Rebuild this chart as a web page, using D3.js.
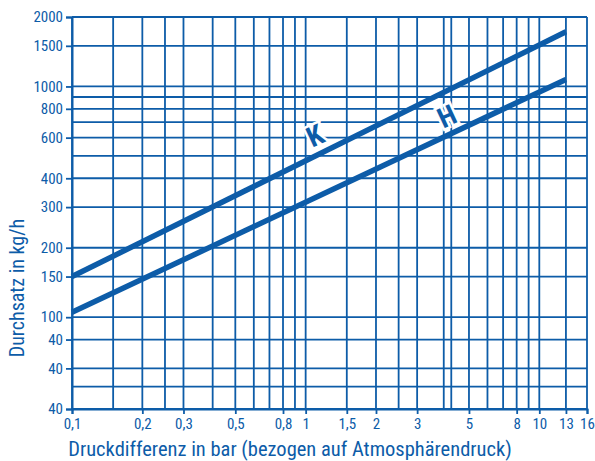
<!DOCTYPE html>
<html><head><meta charset="utf-8">
<script src="https://cdn.jsdelivr.net/npm/d3@7"></script>
<style>
html,body{margin:0;padding:0;background:#fff;}
svg{display:block;}
text{font-family:"Liberation Sans Narrow","Arial Narrow","Roboto Condensed","Liberation Sans",Arial,sans-serif;fill:#0d5ca8;}
</style></head><body>
<script>
// ---- data ----
const xGrid = [0.1,0.15,0.2,0.25,0.3,0.4,0.5,0.6,0.7,0.8,0.9,1,1.5,2,2.5,3,3.9,4.2,5,6,7,8,9,10,13,16];
const xTickValues = [0.1,0.2,0.3,0.5,0.8,1,1.5,2,3,5,8,10,13,16];
const xTickLabels = ["0,1","0,2","0,3","0,5","0,8","1","1,5","2","3","5","8","10","13","16"];
const yGrid = [40,50,60,80,100,150,200,300,400,500,600,700,800,900,1000,1500,2000];
const yTickValues = [2000,1500,1000,800,600,400,300,200,150,100,80,60,40];
const yTickLabels = ["2000","1500","1000","800","600","400","300","200","150","100","40","40","40"];
const seriesNames = ["K","H"];
const seriesX = [0.1, 13];
const seriesK = [150, 1725];
const seriesH = [105, 1072];
const labelK = {x:1.1, y:610};
const labelH = {x:4.03, y:740};

const W=595,H=461;
const color="#0d5ca8";
const svg=d3.select("body").append("svg").attr("width",W).attr("height",H);
const x=d3.scaleLog().domain([0.1,16]).range([72,587]);
const y=d3.scaleLog().domain([40,2000]).range([409,17]);

// grid
const g=svg.append("g");
g.selectAll(".vx").data(xGrid).join("line")
 .attr("x1",d=>x(d)).attr("x2",d=>x(d)).attr("y1",y(2000)).attr("y2",y(40))
 .attr("stroke",color).attr("stroke-width",1.8);
g.selectAll(".hy").data(yGrid).join("line")
 .attr("x1",x(0.1)).attr("x2",x(16)).attr("y1",d=>y(d)).attr("y2",d=>y(d))
 .attr("stroke",color).attr("stroke-width",1.8);

// axes
const xAxis=d3.axisBottom(x).tickValues(xTickValues).tickFormat((d,i)=>xTickLabels[i]).tickSize(5).tickPadding(4);
const gx=svg.append("g").attr("transform",`translate(0,${y(40)})`).call(xAxis);
gx.select(".domain").attr("stroke",color).attr("stroke-width",2);
gx.selectAll(".tick line").attr("stroke",color).attr("stroke-width",1.8);
gx.selectAll(".tick text").attr("fill",color).style("font-size","15px");

const yAxis=d3.axisLeft(y).tickValues(yTickValues).tickFormat((d,i)=>yTickLabels[i]).tickSize(6).tickPadding(3);
const gy=svg.append("g").attr("transform",`translate(${x(0.1)},0)`).call(yAxis);
gy.select(".domain").attr("stroke",color).attr("stroke-width",2);
gy.selectAll(".tick line").attr("stroke",color).attr("stroke-width",1.8);
gy.selectAll(".tick text").attr("fill",color).style("font-size","15px");

// series lines
const line=d3.line().x(d=>x(d[0])).y(d=>y(d[1]));
[seriesK,seriesH].forEach(s=>{
  svg.append("path").datum(seriesX.map((v,i)=>[v,s[i]])).attr("d",line)
   .attr("fill","none").attr("stroke",color).attr("stroke-width",5.5);
});

// series labels
[[labelK,seriesNames[0]],[labelH,seriesNames[1]]].forEach(([p,t])=>{
  const px=x(p.x),py=y(p.y);
  svg.append("text").attr("x",0).attr("y",0)
   .attr("transform",`translate(${px},${py}) rotate(-25)`)
   .attr("text-anchor","middle").attr("dominant-baseline","central")
   .attr("stroke","#fff").attr("stroke-width",5).attr("paint-order","stroke")
   .style("font-size","28px").style("font-weight","bold").text(t);
});

// axis titles
svg.append("text").attr("x",290).attr("y",456).attr("text-anchor","middle")
 .style("font-size","20.5px").text("Druckdifferenz in bar (bezogen auf Atmosphärendruck)");
svg.append("text").attr("transform","translate(24,288) rotate(-90)").attr("text-anchor","middle")
 .style("font-size","20px").text("Durchsatz in kg/h");
</script>
</body></html>
